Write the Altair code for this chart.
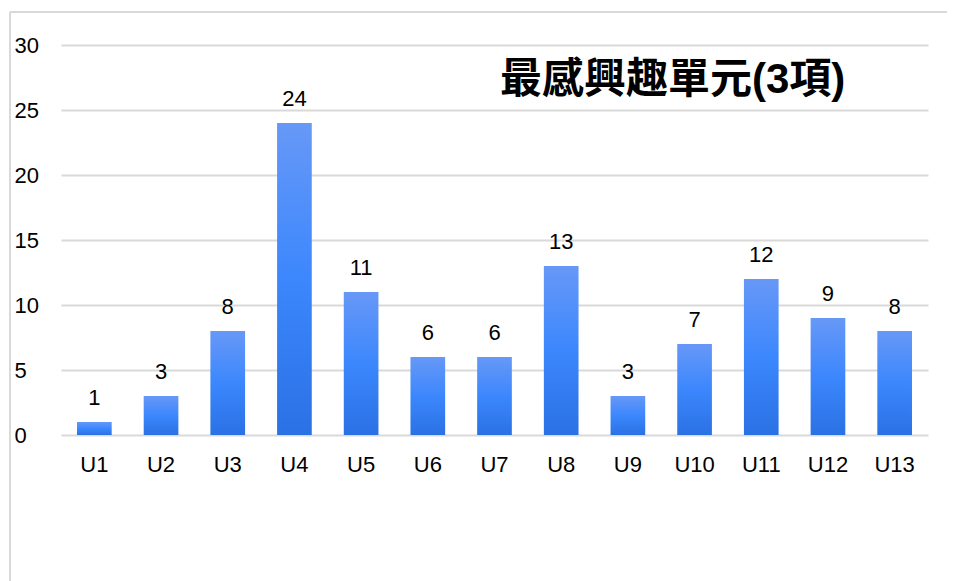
import altair as alt
import pandas as pd

units = ["U1", "U2", "U3", "U4", "U5", "U6", "U7", "U8", "U9", "U10", "U11", "U12", "U13"]
counts = [1, 3, 8, 24, 11, 6, 6, 13, 3, 7, 12, 9, 8]
y_ticks = [0, 5, 10, 15, 20, 25, 30]
title_text = "最感興趣單元(3項)"

df = pd.DataFrame({"unit": units, "count": counts})

FONT = "Liberation Sans, Arial, Noto Sans CJK TC, sans-serif"
W, H = 867, 390

grad = alt.Gradient(
    gradient="linear",
    x1=0, y1=0, x2=0, y2=1,
    stops=[
        alt.GradientStop(color="#6798f7", offset=0),
        alt.GradientStop(color="#3c87fd", offset=0.5),
        alt.GradientStop(color="#2a71e4", offset=1),
    ],
)

x_enc = alt.X(
    "unit:N", sort=units, title=None,
    scale=alt.Scale(paddingInner=0.48, paddingOuter=0.24),
    axis=alt.Axis(labelAngle=0, domain=False, ticks=False, grid=False, labelPadding=19,
                  labelFontSize=22, labelFont=FONT, labelColor="#000000"),
)
y_enc = alt.Y(
    "count:Q", title=None,
    scale=alt.Scale(domain=[0, 30], nice=False),
    axis=alt.Axis(values=y_ticks, domain=False, ticks=False, tickSize=0,
                  labelAlign="left", labelPadding=47, labelFontSize=22,
                  labelFont=FONT, labelColor="#000000",
                  gridColor="#d9d9d9", gridWidth=2),
)

bars = alt.Chart(df).mark_bar(color=grad).encode(x=x_enc, y=y_enc)

labels = alt.Chart(df).mark_text(
    baseline="alphabetic", dy=-17, fontSize=22, font=FONT, color="#000000"
).encode(x=alt.X("unit:N", sort=units), y="count:Q", text="count:Q")

# decorative chart-frame border (left and top edges), single-row data
frame_df = pd.DataFrame({"k": [0]})
frame_left = alt.Chart(frame_df).mark_rule(color="#d9d9d9", strokeWidth=2).encode(
    x=alt.value(-51), y=alt.value(-33), y2=alt.value(H + 200)
)
frame_top = alt.Chart(frame_df).mark_rule(color="#d9d9d9", strokeWidth=2).encode(
    x=alt.value(-51), x2=alt.value(W + 100), y=alt.value(-33)
)

chart = alt.layer(bars, labels, frame_left, frame_top).properties(
    width=W, height=H,
    background="#ffffff",
    title=alt.TitleParams(
        title_text, anchor="start", frame="group", dx=439, dy=95,
        fontSize=42, font=FONT, fontWeight="bold", color="#000000",
    ),
    autosize=alt.AutoSizeParams(type="none"),
    padding={"left": 53, "top": 37, "right": 19, "bottom": 146},
).configure_view(
    strokeWidth=0
).configure_axisX(grid=False, domain=False).configure_axisY(domain=False, ticks=False)

chart.save("out.html", embed_options={"renderer": "svg", "actions": False})
